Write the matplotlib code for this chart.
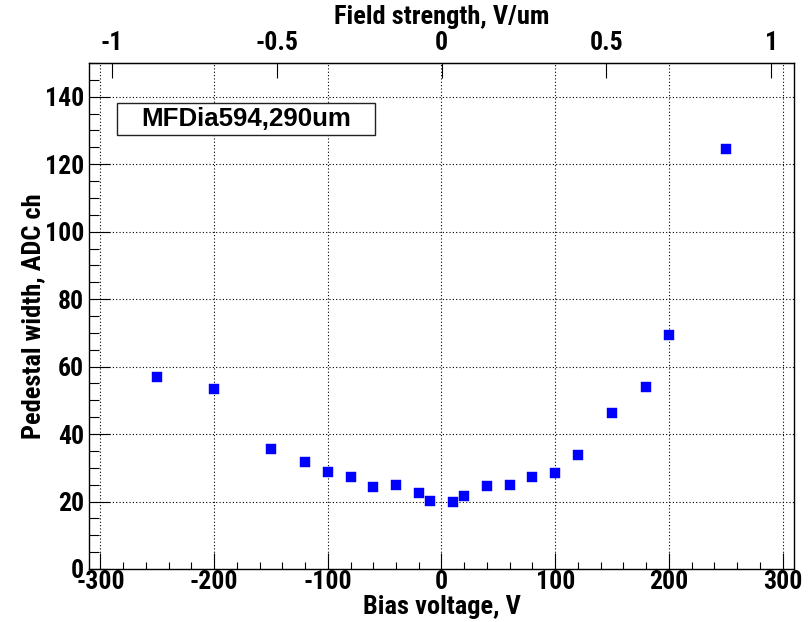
import matplotlib
matplotlib.use("Agg")
import matplotlib.pyplot as plt
from matplotlib import font_manager
from matplotlib.patches import Rectangle
import numpy as np

bias_v = [-250, -200, -150, -120, -100, -80, -60, -40, -20, -10,
          10, 20, 40, 60, 80, 100, 120, 150, 180, 200, 250]
ped_width = [56.8, 53.5, 35.5, 31.8, 28.9, 27.3, 24.3, 25.0, 22.6, 20.3,
             19.8, 21.7, 24.7, 25.0, 27.3, 28.5, 33.8, 46.3, 54.1, 69.3, 124.6]
thickness_um = 290.0
x_ticks = [-300, -200, -100, 0, 100, 200, 300]
y_ticks = [0, 20, 40, 60, 80, 100, 120, 140]
top_ticks = [-1, -0.5, 0, 0.5, 1]
top_labels = ["-1", "-0.5", "0", "0.5", "1"]
label_text = "MFDia594,290um"

names = {f.name for f in font_manager.fontManager.ttflist}
narrow = "Liberation Sans"
for cand in ["Roboto Condensed", "Liberation Sans Narrow", "DejaVu Sans Condensed"]:
    if cand in names:
        narrow = cand
        break

plt.rcParams['axes.unicode_minus'] = False
plt.rcParams['font.family'] = [narrow, 'DejaVu Sans']

W, H = 812, 622
fig = plt.figure(figsize=(W / 100, H / 100), dpi=100)
L, R, T, B = 89, 794, 63, 569
ax = fig.add_axes([L / W, 1 - B / H, (R - L) / W, (B - T) / H])
ax.set_xlim(-310, 310)
ax.set_ylim(0, 150)

ax.plot(bias_v, ped_width, ls='none', marker='s', ms=7.4, mfc='#0000ff',
        mec='#0000ff', mew=0.3, zorder=5)

for v in x_ticks:
    ax.axvline(v, color='black', lw=0.8, ls=(0, (1, 2)), zorder=1)
for y in y_ticks:
    ax.axhline(y, color='black', lw=0.8, ls=(0, (1, 2)), zorder=1)

TS = 18.5
ax.set_xticks(x_ticks)
ax.set_xticks(np.arange(-300, 301, 20), minor=True)
ax.set_yticks(y_ticks)
ax.set_yticks(np.arange(0, 151, 5), minor=True)
ax.tick_params(axis='x', which='major', direction='in', length=11.5, width=0.8,
               pad=1.0, labelsize=TS)
ax.tick_params(axis='x', which='minor', direction='in', length=5, width=0.8)
ax.tick_params(axis='y', which='major', direction='in', length=15, width=0.8,
               pad=3.5, labelsize=TS)
ax.tick_params(axis='y', which='minor', direction='in', length=7.5, width=0.8)
for lab in ax.get_xticklabels() + ax.get_yticklabels():
    lab.set_fontweight('bold')
for s in ax.spines.values():
    s.set_linewidth(1.0)

sec = ax.secondary_xaxis('top', functions=(lambda v: v / thickness_um,
                                           lambda f: f * thickness_um))
sec.set_xticks(top_ticks)
sec.set_xticklabels(top_labels, fontweight='bold')
sec.xaxis.set_minor_locator(matplotlib.ticker.NullLocator())
sec.tick_params(axis='x', which='major', direction='in', length=11, width=0.8,
                pad=6, labelsize=TS)

fig.text(442 / W, 1 - 17 / H, "Field strength, V/um", ha='center', va='center',
         fontsize=19, fontweight='bold')
fig.text(442 / W, 1 - 607 / H, "Bias voltage, V", ha='center', va='center',
         fontsize=19, fontweight='bold')
fig.text(33 / W, 1 - 316 / H, "Pedestal width, ADC ch", ha='center',
         va='center', rotation=90, fontsize=19, fontweight='bold')

bx0, bx1, by0, by1 = 116.7, 375, 103, 135
fig.patches.append(Rectangle((bx0 / W, 1 - by1 / H), (bx1 - bx0) / W,
                             (by1 - by0) / H, transform=fig.transFigure,
                             facecolor='white', edgecolor='#222222', lw=1.0,
                             zorder=6))
fig.text((bx0 + bx1) / 2 / W, 1 - 119.5 / H, label_text, ha='center',
         va='center', fontsize=18.6, fontweight='bold',
         family=['Liberation Sans', 'DejaVu Sans'], zorder=7)

fig.savefig("out.png", dpi=100)
